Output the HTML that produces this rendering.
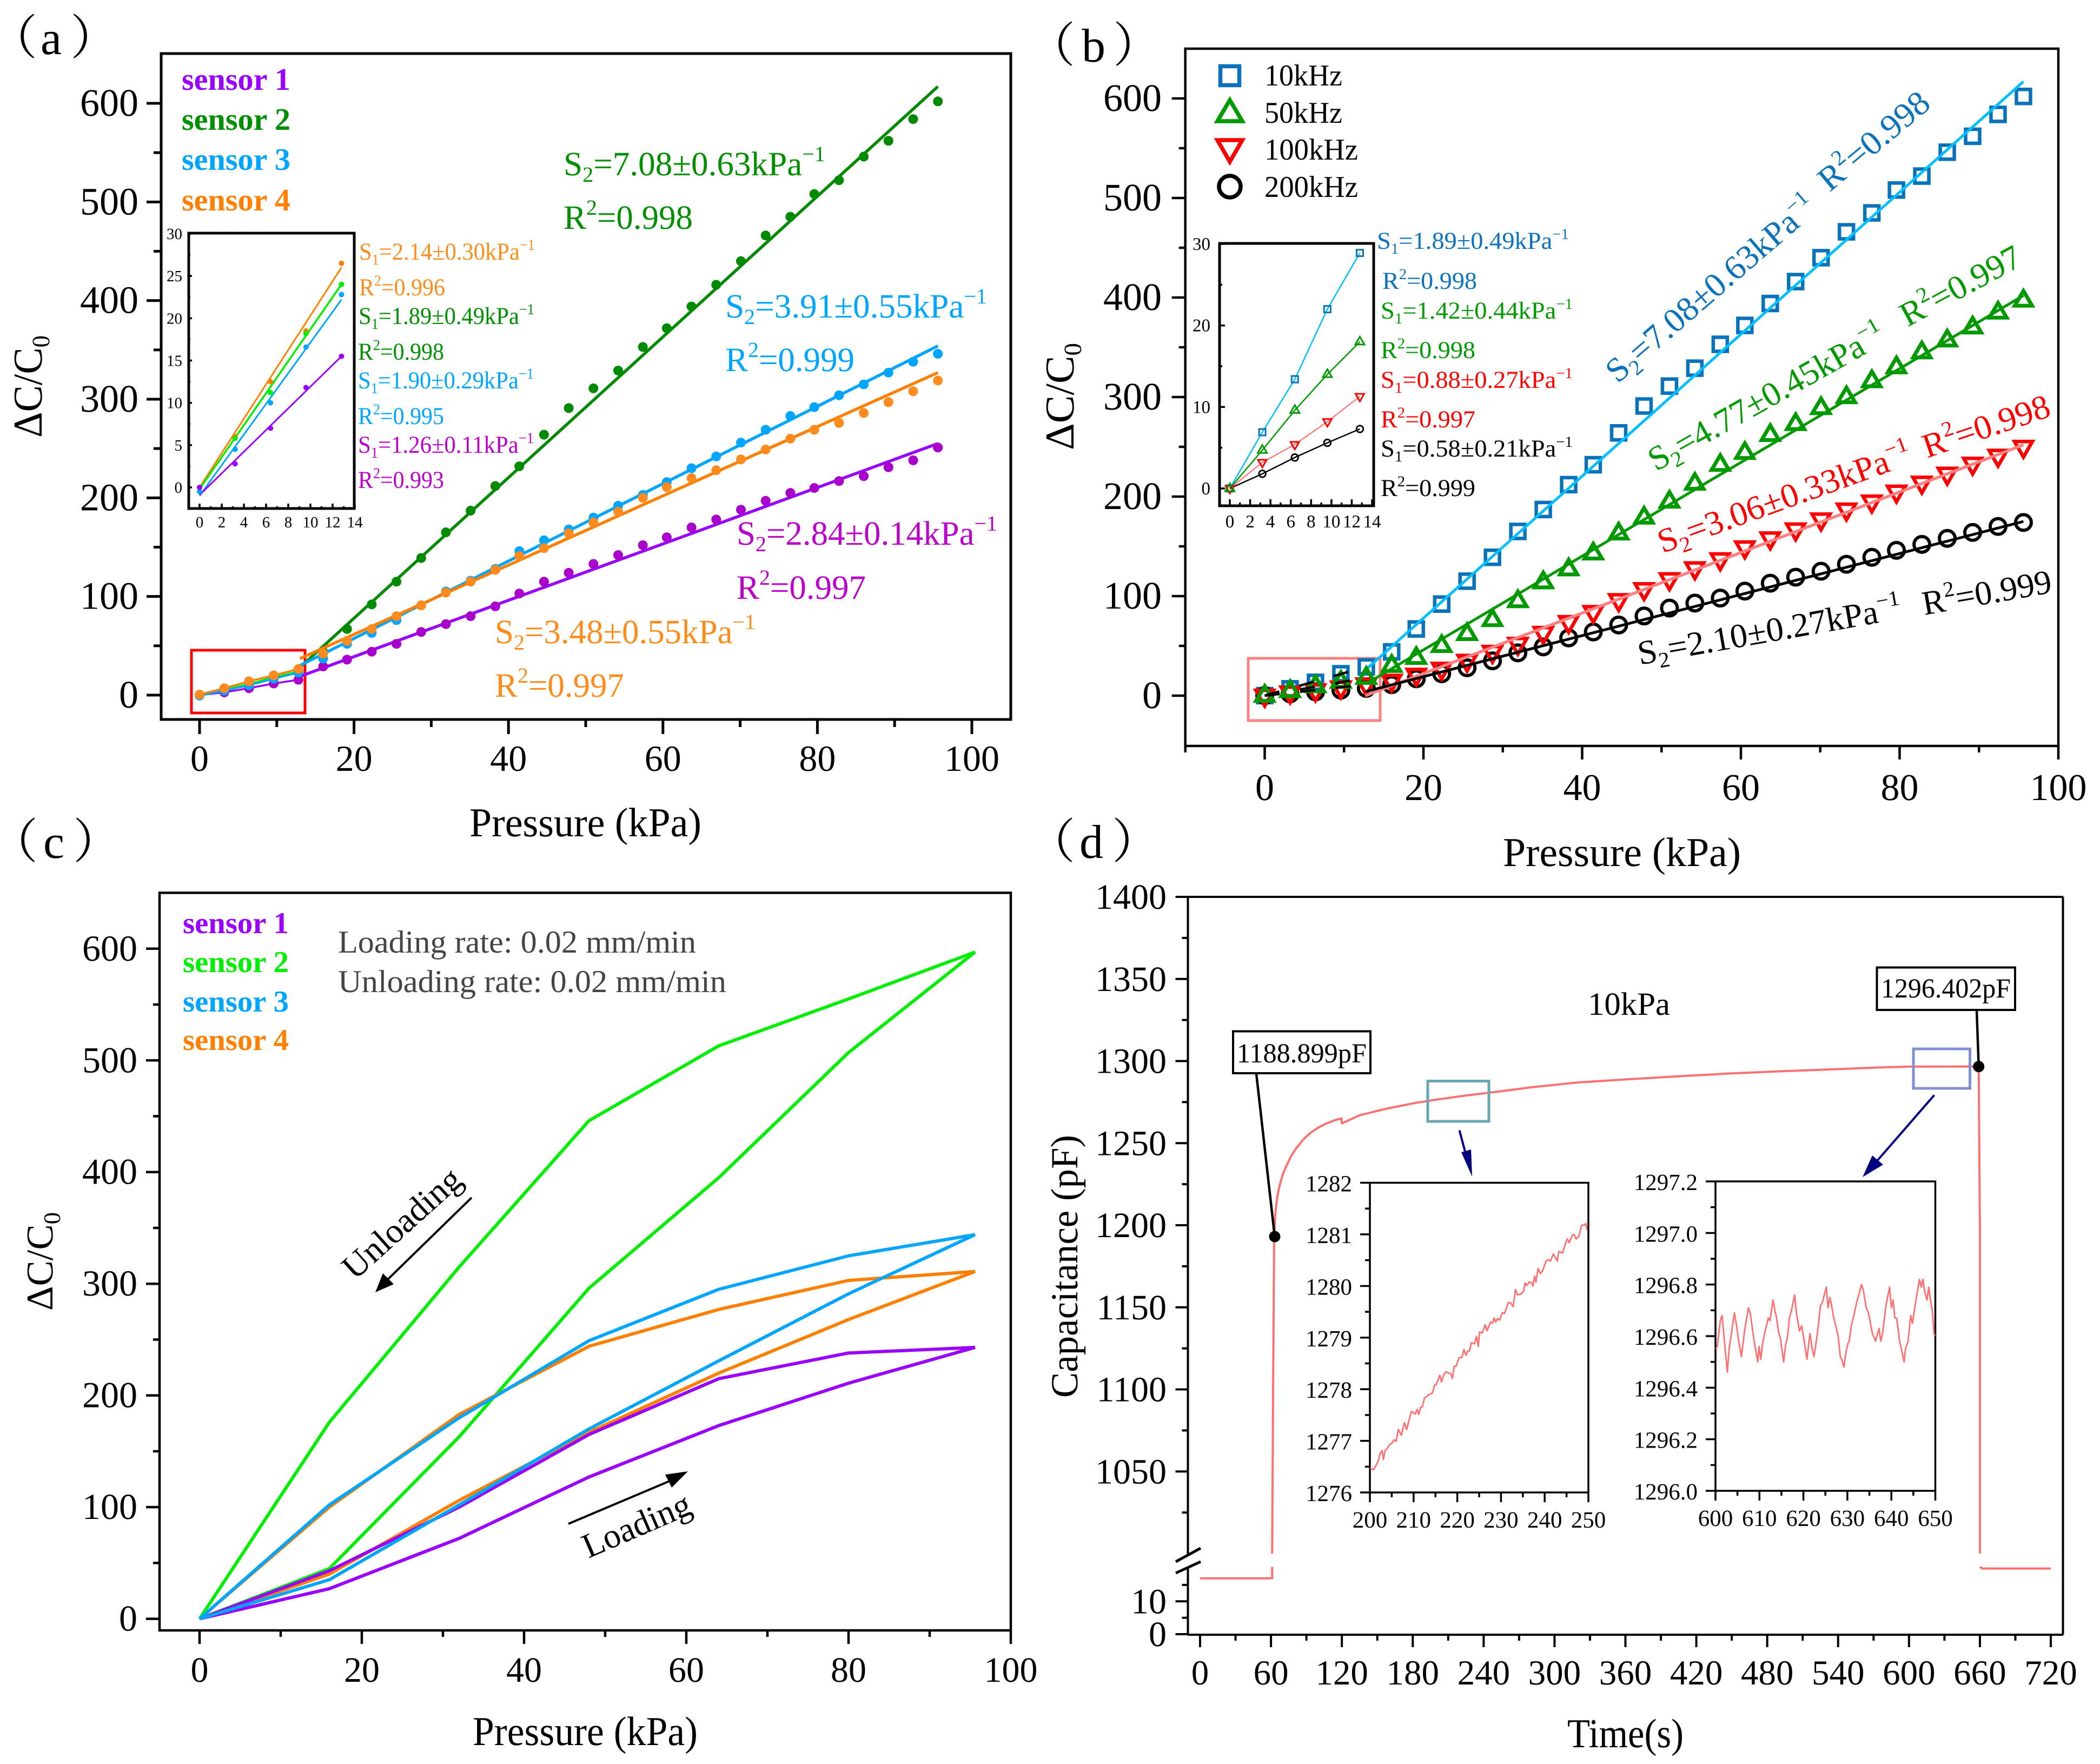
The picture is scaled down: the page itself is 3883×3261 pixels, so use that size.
<!DOCTYPE html>
<html lang="en"><head><meta charset="utf-8"><title>Sensor characterisation figure</title>
<style>
html,body{margin:0;padding:0;background:#fff}
svg{display:block;font-family:"Liberation Serif","Noto Serif CJK SC",serif;text-rendering:geometricPrecision}
.frame{fill:none;stroke:#000}
.big{font-size:63px}
.small{font-size:45px}
.title{font-size:76px;fill:#000}
.lg{font-size:58px;font-weight:bold}
.tag{font-size:88px;fill:#000}
</style></head><body>
<svg id="fig" xmlns="http://www.w3.org/2000/svg" width="3883" height="3261" viewBox="0 0 3883 3261">
<rect width="3883" height="3261" fill="#fff"/>

<!-- PANEL A -->
<g id="panel-a">
<text class="tag" x="-19" y="100">（<tspan dx="6">a</tspan><tspan dx="16">）</tspan></text>
<rect class="frame" x="298" y="99" width="1571" height="1231" stroke-width="5"/>
<rect x="354" y="1202" width="210" height="116" fill="none" stroke="#f00" stroke-width="5"/>
<g id="a-marks"></g>
<g id="a-ticks"></g>
<text class="title" x="868" y="1546" textLength="429" lengthAdjust="spacingAndGlyphs">Pressure (kPa)</text>
<text class="title" transform="translate(77,809) rotate(-90)" textLength="189" lengthAdjust="spacingAndGlyphs">ΔC/C<tspan dy="14" font-size="46">0</tspan></text>
<text class="lg" x="336" y="166" fill="#9a00ff" textLength="201" lengthAdjust="spacingAndGlyphs">sensor 1</text>
<text class="lg" x="336" y="240" fill="#008f00" textLength="201" lengthAdjust="spacingAndGlyphs">sensor 2</text>
<text class="lg" x="336" y="314" fill="#00a5ff" textLength="201" lengthAdjust="spacingAndGlyphs">sensor 3</text>
<text class="lg" x="336" y="389" fill="#ff8000" textLength="201" lengthAdjust="spacingAndGlyphs">sensor 4</text>

<text class="big" fill="#008f00" x="1042" y="324" textLength="484" lengthAdjust="spacingAndGlyphs">S<tspan dy="12" font-size="40">2</tspan><tspan dy="-12">=7.08±0.63kPa</tspan><tspan dy="-26" font-size="40">−1</tspan></text>
<text class="big" fill="#008f00" x="1042" y="423" textLength="239" lengthAdjust="spacingAndGlyphs">R<tspan dy="-26" font-size="40">2</tspan><tspan dy="26">=0.998</tspan></text>
<text class="big" fill="#00a5ff" x="1341" y="587" textLength="484" lengthAdjust="spacingAndGlyphs">S<tspan dy="12" font-size="40">2</tspan><tspan dy="-12">=3.91±0.55kPa</tspan><tspan dy="-26" font-size="40">−1</tspan></text>
<text class="big" fill="#00a5ff" x="1341" y="686" textLength="239" lengthAdjust="spacingAndGlyphs">R<tspan dy="-26" font-size="40">2</tspan><tspan dy="26">=0.999</tspan></text>
<text class="big" fill="#bb00cc" x="1362" y="1007" textLength="482" lengthAdjust="spacingAndGlyphs">S<tspan dy="12" font-size="40">2</tspan><tspan dy="-12">=2.84±0.14kPa</tspan><tspan dy="-26" font-size="40">−1</tspan></text>
<text class="big" fill="#bb00cc" x="1362" y="1107" textLength="239" lengthAdjust="spacingAndGlyphs">R<tspan dy="-26" font-size="40">2</tspan><tspan dy="26">=0.997</tspan></text>
<text class="big" fill="#ff8c1a" x="915" y="1189" textLength="482" lengthAdjust="spacingAndGlyphs">S<tspan dy="12" font-size="40">2</tspan><tspan dy="-12">=3.48±0.55kPa</tspan><tspan dy="-26" font-size="40">−1</tspan></text>
<text class="big" fill="#ff8c1a" x="915" y="1288" textLength="239" lengthAdjust="spacingAndGlyphs">R<tspan dy="-26" font-size="40">2</tspan><tspan dy="26">=0.997</tspan></text>

<g>
<rect class="frame" x="349" y="431" width="306" height="509" stroke-width="5"/>
<g id="a-inset"></g>
</g>
<text class="small" fill="#ff8c1a" x="664" y="480" textLength="325" lengthAdjust="spacingAndGlyphs">S<tspan dy="9" font-size="28">1</tspan><tspan dy="-9">=2.14±0.30kPa</tspan><tspan dy="-18" font-size="28">−1</tspan></text>
<text class="small" fill="#ff8c1a" x="664" y="546" textLength="159" lengthAdjust="spacingAndGlyphs">R<tspan dy="-18" font-size="28">2</tspan><tspan dy="18">=0.996</tspan></text>
<text class="small" fill="#008f00" x="663" y="599" textLength="325" lengthAdjust="spacingAndGlyphs">S<tspan dy="9" font-size="28">1</tspan><tspan dy="-9">=1.89±0.49kPa</tspan><tspan dy="-18" font-size="28">−1</tspan></text>
<text class="small" fill="#008f00" x="662" y="665" textLength="159" lengthAdjust="spacingAndGlyphs">R<tspan dy="-18" font-size="28">2</tspan><tspan dy="18">=0.998</tspan></text>
<text class="small" fill="#00a5ff" x="662" y="718" textLength="325" lengthAdjust="spacingAndGlyphs">S<tspan dy="9" font-size="28">1</tspan><tspan dy="-9">=1.90±0.29kPa</tspan><tspan dy="-18" font-size="28">−1</tspan></text>
<text class="small" fill="#00a5ff" x="662" y="784" textLength="159" lengthAdjust="spacingAndGlyphs">R<tspan dy="-18" font-size="28">2</tspan><tspan dy="18">=0.995</tspan></text>
<text class="small" fill="#bb00cc" x="662" y="837" textLength="325" lengthAdjust="spacingAndGlyphs">S<tspan dy="9" font-size="28">1</tspan><tspan dy="-9">=1.26±0.11kPa</tspan><tspan dy="-18" font-size="28">−1</tspan></text>
<text class="small" fill="#bb00cc" x="662" y="902" textLength="159" lengthAdjust="spacingAndGlyphs">R<tspan dy="-18" font-size="28">2</tspan><tspan dy="18">=0.993</tspan></text>
</g>

<!-- PANEL B -->
<g id="panel-b">
<text class="tag" x="1900" y="114">（<tspan dx="12">b</tspan><tspan dx="14">）</tspan></text>
<rect class="frame" x="2191.7" y="90" width="1614.3" height="1289" stroke-width="4.5"/>
<rect x="2308" y="1217" width="244" height="115" fill="none" stroke="#ff8080" stroke-width="5"/>
<g id="b-marks"></g>
<g id="b-ticks"></g>
<text class="title" x="2779" y="1601" textLength="440" lengthAdjust="spacingAndGlyphs">Pressure (kPa)</text>
<text class="title" transform="translate(1985,832) rotate(-90)" textLength="198" lengthAdjust="spacingAndGlyphs">ΔC/C<tspan dy="14" font-size="46">0</tspan></text>
<g id="b-legend">
<rect x="2256.5" y="122.5" width="35" height="35" fill="none" stroke="#0a72ba" stroke-width="7.5"/>
<path d="M2274 185 L2297 224 L2251 224 Z" fill="none" stroke="#009900" stroke-width="7.5"/>
<path d="M2274 299 L2297 259 L2251 259 Z" fill="none" stroke="#f00" stroke-width="7.5"/>
<circle cx="2274" cy="345" r="20" fill="none" stroke="#000" stroke-width="7.5"/>
<text x="2338" y="158" font-size="56" textLength="144" lengthAdjust="spacingAndGlyphs">10kHz</text>
<text x="2338" y="227" font-size="56" textLength="144" lengthAdjust="spacingAndGlyphs">50kHz</text>
<text x="2338" y="295" font-size="56" textLength="173" lengthAdjust="spacingAndGlyphs">100kHz</text>
<text x="2338" y="364" font-size="56" textLength="173" lengthAdjust="spacingAndGlyphs">200kHz</text>
</g>
<text class="big" fill="#0a72ba" transform="translate(2991,710) rotate(-40.8)" textLength="492" lengthAdjust="spacingAndGlyphs">S<tspan dy="12" font-size="40">2</tspan><tspan dy="-12">=7.08±0.63kPa</tspan><tspan dy="-26" font-size="40">−1</tspan></text>
<text class="big" fill="#0a72ba" transform="translate(3383,356) rotate(-40)" textLength="248" lengthAdjust="spacingAndGlyphs">R<tspan dy="-26" font-size="40">2</tspan><tspan dy="26">=0.998</tspan></text>
<text class="big" fill="#009900" transform="translate(3062,872) rotate(-29.3)" textLength="492" lengthAdjust="spacingAndGlyphs">S<tspan dy="12" font-size="40">2</tspan><tspan dy="-12">=4.77±0.45kPa</tspan><tspan dy="-26" font-size="40">−1</tspan></text>
<text class="big" fill="#009900" transform="translate(3527,605) rotate(-28.4)" textLength="245" lengthAdjust="spacingAndGlyphs">R<tspan dy="-26" font-size="40">2</tspan><tspan dy="26">=0.997</tspan></text>
<text class="big" fill="#f00" transform="translate(3074,1023) rotate(-19.8)" textLength="494" lengthAdjust="spacingAndGlyphs">S<tspan dy="12" font-size="40">2</tspan><tspan dy="-12">=3.06±0.33kPa</tspan><tspan dy="-26" font-size="40">−1</tspan></text>
<text class="big" fill="#f00" transform="translate(3563,847) rotate(-18.7)" textLength="245" lengthAdjust="spacingAndGlyphs">R<tspan dy="-26" font-size="40">2</tspan><tspan dy="26">=0.998</tspan></text>
<text class="big" fill="#000" transform="translate(3032,1229) rotate(-10)" textLength="494" lengthAdjust="spacingAndGlyphs">S<tspan dy="12" font-size="40">2</tspan><tspan dy="-12">=2.10±0.27kPa</tspan><tspan dy="-26" font-size="40">−1</tspan></text>
<text class="big" fill="#000" transform="translate(3558,1137) rotate(-10)" textLength="242" lengthAdjust="spacingAndGlyphs">R<tspan dy="-26" font-size="40">2</tspan><tspan dy="26">=0.999</tspan></text>

<g>
<rect class="frame" x="2255" y="450" width="285" height="485" stroke-width="5"/>
<g id="b-inset"></g>
</g>
<text class="small" fill="#0a72ba" x="2546" y="460" textLength="355" lengthAdjust="spacingAndGlyphs">S<tspan dy="9" font-size="28">1</tspan><tspan dy="-9">=1.89±0.49kPa</tspan><tspan dy="-18" font-size="28">−1</tspan></text>
<text class="small" fill="#0a72ba" x="2556" y="534" textLength="175" lengthAdjust="spacingAndGlyphs">R<tspan dy="-18" font-size="28">2</tspan><tspan dy="18">=0.998</tspan></text>
<text class="small" fill="#009900" x="2553" y="589" textLength="355" lengthAdjust="spacingAndGlyphs">S<tspan dy="9" font-size="28">1</tspan><tspan dy="-9">=1.42±0.44kPa</tspan><tspan dy="-18" font-size="28">−1</tspan></text>
<text class="small" fill="#009900" x="2553" y="662" textLength="175" lengthAdjust="spacingAndGlyphs">R<tspan dy="-18" font-size="28">2</tspan><tspan dy="18">=0.998</tspan></text>
<text class="small" fill="#f00" x="2553" y="717" textLength="355" lengthAdjust="spacingAndGlyphs">S<tspan dy="9" font-size="28">1</tspan><tspan dy="-9">=0.88±0.27kPa</tspan><tspan dy="-18" font-size="28">−1</tspan></text>
<text class="small" fill="#f00" x="2553" y="790" textLength="175" lengthAdjust="spacingAndGlyphs">R<tspan dy="-18" font-size="28">2</tspan><tspan dy="18">=0.997</tspan></text>
<text class="small" fill="#000" x="2553" y="844" textLength="355" lengthAdjust="spacingAndGlyphs">S<tspan dy="9" font-size="28">1</tspan><tspan dy="-9">=0.58±0.21kPa</tspan><tspan dy="-18" font-size="28">−1</tspan></text>
<text class="small" fill="#000" x="2553" y="917" textLength="175" lengthAdjust="spacingAndGlyphs">R<tspan dy="-18" font-size="28">2</tspan><tspan dy="18">=0.999</tspan></text>
</g>

<!-- PANEL C -->
<g id="panel-c">
<text class="tag" x="-18" y="1586">（<tspan dx="10">c</tspan><tspan dx="16">）</tspan></text>
<rect class="frame" x="295" y="1650.5" width="1574" height="1363.5" stroke-width="4.5"/>
<g id="c-marks"></g>
<g id="c-ticks"></g>
<text class="title" x="874" y="3226" textLength="416" lengthAdjust="spacingAndGlyphs">Pressure (kPa)</text>
<text class="title" style="font-size:70px" transform="translate(97,2423) rotate(-90)" textLength="182" lengthAdjust="spacingAndGlyphs">ΔC/C<tspan dy="14" font-size="44">0</tspan></text>
<text x="338" y="1725" font-size="56" font-weight="bold" fill="#9a00ff" textLength="196" lengthAdjust="spacingAndGlyphs">sensor 1</text>
<text x="338" y="1797" font-size="56" font-weight="bold" fill="#00ee00" textLength="196" lengthAdjust="spacingAndGlyphs">sensor 2</text>
<text x="338" y="1870" font-size="56" font-weight="bold" fill="#00a5ff" textLength="196" lengthAdjust="spacingAndGlyphs">sensor 3</text>
<text x="338" y="1941" font-size="56" font-weight="bold" fill="#ff8000" textLength="196" lengthAdjust="spacingAndGlyphs">sensor 4</text>
<text x="625" y="1761" font-size="59" fill="#444" textLength="662" lengthAdjust="spacingAndGlyphs">Loading rate: 0.02 mm/min</text>
<text x="625" y="1834" font-size="59" fill="#444" textLength="718" lengthAdjust="spacingAndGlyphs">Unloading rate: 0.02 mm/min</text>
<text font-size="64" transform="translate(656,2368) rotate(-42)" textLength="272" lengthAdjust="spacingAndGlyphs">Unloading</text>
<line x1="872" y1="2214" x2="712" y2="2370" stroke="#000" stroke-width="4"/>
<polygon points="694,2389 708,2354 728,2374" fill="#000"/>
<text font-size="64" transform="translate(1088,2881) rotate(-23.4)" textLength="212" lengthAdjust="spacingAndGlyphs">Loading</text>
<line x1="1051" y1="2817" x2="1245" y2="2735" stroke="#000" stroke-width="4"/>
<polygon points="1272,2720 1242,2750 1230,2726" fill="#000"/>
</g>

<!-- PANEL D -->
<g id="panel-d">
<text class="tag" x="1900" y="1586">（<tspan dx="8">d</tspan><tspan dx="16">）</tspan></text>
<g stroke="#000" stroke-width="4">
<line x1="2196" y1="1658" x2="3815" y2="1658"/>
<line x1="3814.5" y1="1658" x2="3814.5" y2="3022"/>
<line x1="2196" y1="3022" x2="3815" y2="3022"/>
<line x1="2196.5" y1="1658" x2="2196.5" y2="2873"/>
<line x1="2196.5" y1="2897" x2="2196.5" y2="3022"/>
<line x1="2174" y1="2887" x2="2220" y2="2862" stroke-width="5"/>
<line x1="2174" y1="2908" x2="2220" y2="2887" stroke-width="5"/>
</g>
<g id="d-ticks"></g>
<g id="d-marks"></g>
<text class="title" x="2898" y="3230" textLength="215" lengthAdjust="spacingAndGlyphs">Time(s)</text>
<text style="font-size:71px" transform="translate(1992,2584) rotate(-90)" textLength="486" lengthAdjust="spacingAndGlyphs">Capacitance (pF)</text>
<text x="2936" y="1876" font-size="60" textLength="152" lengthAdjust="spacingAndGlyphs">10kPa</text>
<line x1="2323" y1="1985" x2="2357" y2="2286" stroke="#000" stroke-width="4.5"/>
<circle cx="2357" cy="2286" r="10.5" fill="#000"/>
<rect x="2280" y="1906.5" width="254" height="77.5" fill="#fff" stroke="#000" stroke-width="4"/>
<text x="2287" y="1964" font-size="51" textLength="240" lengthAdjust="spacingAndGlyphs">1188.899pF</text>
<line x1="3655" y1="1868" x2="3658.7" y2="1971" stroke="#000" stroke-width="4.5"/>
<circle cx="3658.7" cy="1971.7" r="10.5" fill="#000"/>
<rect x="3470.5" y="1788.5" width="255.5" height="78.5" fill="#fff" stroke="#000" stroke-width="4"/>
<text x="3478" y="1844" font-size="51" textLength="240" lengthAdjust="spacingAndGlyphs">1296.402pF</text>
<rect x="2640" y="1998.5" width="113" height="74.5" fill="none" stroke="#6aa5b5" stroke-width="5"/>
<rect x="3538" y="1939" width="104.5" height="73" fill="none" stroke="#8090d0" stroke-width="5"/>
<line x1="2698.5" y1="2089.5" x2="2712" y2="2140" stroke="#000080" stroke-width="4"/>
<polygon points="2722,2175 2702,2130 2720,2125" fill="#000080"/>
<line x1="3576.5" y1="2024.5" x2="3470" y2="2147" stroke="#000080" stroke-width="4"/>
<polygon points="3444,2176 3462,2136 3482,2153" fill="#000080"/>
<g>
<rect class="frame" x="2533" y="2186.5" width="404" height="572.5" stroke-width="3.5"/>
<g id="d-inset-1"></g>
</g>
<g>
<rect class="frame" x="3172" y="2184" width="406.5" height="572" stroke-width="3.5"/>
<g id="d-inset-2"></g>
</g>
</g>
</svg>

<script>
/* ---------- shared pressure sampling ---------- */
const pressureKpa = [0,3.2,6.4,9.6,12.8,16,19.1,22.3,25.5,28.7,31.9,35.1,38.3,41.4,44.6,47.8,51,54.2,57.4,60.5,63.7,66.9,70.1,73.3,76.5,79.6,82.8,86,89.2,92.4,95.6];

/* ---------- panel a ---------- */
const sensor1Values = [0,2.8,7,11.8,15.5,29,36,44,52,64,72,80,90,103,115,124,133,142,152,160,170,178,188,197,205,210,217,222,231,238,251];
const sensor2Values = [0,5.8,11.2,18.2,24,44,67,92,115,139,165,187,212,232,264,291,311,329,353,372,394,416,440,466,485,508,522,546,562,584,602];
const sensor3Values = [-0.5,4.5,10,16.6,22.8,37,52,63,76,91,105,116,128,146,157,168,180,192,203,216,230,242,256,269,283,292,304,315,327,338,346];
const sensor4Values = [0.5,7,14,20,26.5,42,55,67,80,91,104,115,127,141,149,164,175,186,200,211,220,228,239,249,260,269,276,286,297,308,319];
const fitKpa = [13,95.6];
const sensor1Fit = [19,255];
const sensor2Fit = [28,617];
const sensor3Fit = [30,354];
const sensor4Fit = [37,327];
const insetFitKpa = [0,12.8];
const insetSensor1Fit = [-0.9,15.5];
const insetSensor2Fit = [-0.2,24];
const insetSensor3Fit = [-1,22.2];
const insetSensor4Fit = [0,26];
const insetSensor1Points = [0,2.8,7,11.8,15.5];
const insetSensor2Points = [0,5.8,11.2,18.2,24];
const insetSensor3Points = [-0.5,4.5,10,16.6,22.8];
const insetSensor4Points = [0,6,12.5,18.5,26.5];
const aXTickLabels = ['0','20','40','60','80','100'];
const aXMinorTicks = [10,30,50,70,90];
const aYTickLabels = ['0','100','200','300','400','500','600'];
const aYMinorTicks = [50,150,250,350,450,550];
const insetAXTickLabels = ['0','2','4','6','8','10','12','14'];
const insetAXMinorTicks = [1,3,5,7,9,11,13];
const insetAYTickLabels = ['0','5','10','15','20','25','30'];
const insetAYMinorTicks = [2.5,7.5,12.5,17.5,22.5,27.5];

/* ---------- panel b ---------- */
const freq10kHzValues = [0,6.9,13.4,22,28.9,44,67,92,115,139,165,187,212,232,264,291,311,329,353,372,394,416,440,466,485,508,522,546,562,584,602];
const freq50kHzValues = [0,4.7,9.6,14,18,30,38,50,62,76,95,114,127,143,163,179,195,213,232,244,262,273,289,300,316,330,345,357,370,385,397];
const freq100kHzValues = [0,3.2,5.4,8.2,11.3,15,21,27,35,44,52,63,74,84,96,107,117,128,137,149,158,167,177,187,195,205,214,223,233,241,250];
const freq200kHzValues = [0,1.8,3.8,5.6,7.3,11,17,22,28,35,43,49,58,64,71,80,88,93,98,105,113,119,125,132,139,146,152,158,164,170,174];
const freq10kHzFitKpa = [13,95.6];
const freq10kHzFit = [28,617];
const freq50kHzFitKpa = [13,95.6];
const freq50kHzFit = [13,402];
const freq100kHzFitKpa = [12.7,95.6];
const freq100kHzFit = [0,252];
const freq200kHzFitKpa = [12.7,95.6];
const freq200kHzFit = [4,175];
const lowRangeFitKpa = [0,12.8];
const lowRange10kHzFit = [0,29];
const lowRange50kHzFit = [0,18];
const lowRange100kHzFit = [0,11.3];
const bXTickLabels = ['0','20','40','60','80','100'];
const bXMinorTicks = [-10,10,30,50,70,90];
const bYTickLabels = ['0','100','200','300','400','500','600'];
const bYMinorTicks = [50,150,250,350,450,550];
const insetBXTickLabels = ['0','2','4','6','8','10','12','14'];
const insetBXMinorTicks = [1,3,5,7,9,11,13];
const insetBYTickLabels = ['0','10','20','30'];
const insetBYMinorTicks = [5,15,25];

/* ---------- panel c ---------- */
const cycleKpa = [0,16,32,48,64,80,95.6];
const sensor1Loading = [0,27,72,127,173,211,243];
const sensor1Unloading = [0,43,100,165,215,238,243];
const sensor2Loading = [0,45,163,296,395,507,597];
const sensor2Unloading = [0,176,315,446,513,555,597];
const sensor3Loading = [0,35,102,170,231,291,344];
const sensor3Unloading = [0,102,180,249,295,325,344];
const sensor4Loading = [0,40,106,167,220,268,311];
const sensor4Unloading = [0,100,183,244,277,303,311];
const cXTickLabels = ['0','20','40','60','80','100'];
const cXMinorTicks = [10,30,50,70,90];
const cYTickLabels = ['0','100','200','300','400','500','600'];
const cYMinorTicks = [50,150,250,350,450,550];

/* ---------- panel d ---------- */
const restBeforeTime = [0,61,61];
const restBeforeValues = [17,17,20.5];
const riseTime = [61,61.8,62.7,63.5,64.4,65.5,67.3,70,73,77,81.5,87,93,100,107,114,119.7,120,135,158,180,200,225,250,280,320,360,400,450,500,550,580,600,650,658,659,660,660];
const riseValues = [1000,1100,1193,1205,1212,1218,1224,1231,1236,1242,1247,1252,1256,1259.5,1262,1264,1265,1262,1267,1271,1274.2,1276.5,1279,1281.2,1284,1287,1288.8,1290.5,1292.5,1294,1295.4,1296.2,1296.6,1296.7,1296.5,1296.4,1200,1000];
const restAfterTime = [660,662,720];
const restAfterValues = [20.5,20,20];
const dXTickLabels = ['0','60','120','180','240','300','360','420','480','540','600','660','720'];
const dXMinorTicks = [30,90,150,210,270,330,390,450,510,570,630,690];
const dUpperTickLabels = ['1050','1100','1150','1200','1250','1300','1350','1400'];
const dUpperMinorTicks = [1025,1075,1125,1175,1225,1275,1325,1375];
const dLowerTickLabels = ['0','10'];
const dLowerMinorTicks = [5,15];
const zoomATime = [200.1,200.8,201.5,201.9,202.3,202.8,203.1,203.5,204,204.4,205,205.5,206,206.5,207.2,207.9,208.4,209.5,210.4,210.8,211.2,211.6,212,212.5,213,213.6,214.3,214.8,215.2,216,216.4,216.9,217.5,218.1,218.5,218.9,219.3,219.7,220.4,221.1,221.5,222,222.4,222.8,223.2,223.9,224.4,224.8,225.1,225.7,226.4,226.8,227.6,228.1,228.4,228.8,229.2,229.7,230.3,230.8,231.7,232.2,232.8,233.3,233.8,234.5,235.2,235.5,235.9,236.5,236.9,237.3,237.7,238,238.5,239,239.5,240.3,240.8,241.3,242,242.9,243.2,244.1,244.9,245.2,245.6,246.3,246.7,247.2,247.8,248.5,249.1,249.4,249.7];
const zoomAValues = [1276.47,1276.44,1276.54,1276.61,1276.75,1276.81,1276.64,1276.82,1276.85,1276.92,1276.95,1277.02,1276.99,1277.22,1277.11,1277.35,1277.22,1277.57,1277.52,1277.61,1277.51,1277.65,1277.66,1277.83,1277.86,1277.9,1277.92,1278.08,1278.09,1278.27,1278.14,1278.28,1278.34,1278.31,1278.3,1278.21,1278.45,1278.44,1278.61,1278.62,1278.77,1278.66,1278.74,1278.74,1278.9,1278.88,1279.02,1278.83,1279.11,1279.09,1279.25,1279.13,1279.3,1279.28,1279.38,1279.3,1279.37,1279.34,1279.48,1279.47,1279.68,1279.67,1279.6,1279.93,1279.83,1279.84,1279.9,1280.06,1280.01,1280.08,1280.07,1280,1280.19,1280.08,1280.34,1280.24,1280.29,1280.48,1280.51,1280.48,1280.62,1280.48,1280.67,1280.64,1280.86,1280.91,1280.84,1280.98,1281,1280.91,1280.96,1281.18,1281.18,1281.21,1281.08];
const zoomBTime = [600.1,600.4,601.1,601.5,602.2,602.7,603.1,604.3,604.8,605.2,605.9,606.6,607.5,607.9,608.8,609.1,609.6,609.9,610.3,610.7,611.3,612,612.4,613.1,613.5,613.9,614.3,614.8,615.5,615.9,616.4,616.8,617.3,618,618.4,619.1,619.6,620.1,620.8,621.2,621.5,622,622.4,623.1,623.9,624.3,625.2,625.6,626,626.4,626.8,627.5,627.9,628.4,628.7,629.2,629.7,630.1,630.4,630.9,631.6,632.1,632.6,633.2,633.6,634.3,634.8,635.7,636.4,637.2,637.6,638,638.8,639.6,640,640.4,640.8,641.2,641.9,642.9,643.2,643.8,644.4,644.8,645.6,646.4,646.8,647.2,647.6,648.1,648.5,648.9,649.3,649.7,649.9];
const zoomBValues = [1296.55,1296.56,1296.66,1296.68,1296.55,1296.46,1296.55,1296.69,1296.64,1296.59,1296.52,1296.62,1296.71,1296.69,1296.58,1296.55,1296.5,1296.56,1296.51,1296.57,1296.62,1296.67,1296.66,1296.74,1296.7,1296.67,1296.62,1296.59,1296.5,1296.56,1296.6,1296.67,1296.7,1296.76,1296.69,1296.62,1296.64,1296.59,1296.51,1296.57,1296.61,1296.55,1296.52,1296.6,1296.72,1296.73,1296.79,1296.71,1296.75,1296.72,1296.68,1296.63,1296.6,1296.52,1296.51,1296.48,1296.54,1296.57,1296.58,1296.64,1296.69,1296.73,1296.76,1296.8,1296.78,1296.71,1296.69,1296.61,1296.58,1296.63,1296.58,1296.61,1296.72,1296.79,1296.71,1296.74,1296.67,1296.67,1296.58,1296.5,1296.55,1296.58,1296.68,1296.65,1296.74,1296.82,1296.79,1296.82,1296.77,1296.74,1296.79,1296.74,1296.7,1296.61,1296.6];
const zoomAXTickLabels = ['200','210','220','230','240','250'];
const zoomAXMinorTicks = [205,215,225,235,245];
const zoomAYTickLabels = ['1276','1277','1278','1279','1280','1281','1282'];
const zoomAYMinorTicks = [1276.5,1277.5,1278.5,1279.5,1280.5,1281.5];
const zoomBXTickLabels = ['600','610','620','630','640','650'];
const zoomBXMinorTicks = [605,615,625,635,645];
const zoomBYTickLabels = ['1296.0','1296.2','1296.4','1296.6','1296.8','1297.0','1297.2'];
const zoomBYMinorTicks = [1296.1,1296.3,1296.5,1296.7,1296.9,1297.1];

/* ---------- helpers ---------- */
const SVG_NS = 'http://www.w3.org/2000/svg';
function linear(d0, d1, r0, r1) { return v => r0 + (v - d0) * (r1 - r0) / (d1 - d0); }
function make(parent, tag, name, attrs) {
  const el = document.createElementNS(SVG_NS, tag);
  
  
  for (const k in attrs) el.setAttribute(k, attrs[k]);
  parent.appendChild(el);
  return el;
}
function polyline(parent, name, xs, ys, fx, fy, color, width, extra) {
  const pts = xs.map((x, i) => fx(x).toFixed(1) + ',' + fy(ys[i]).toFixed(1)).join(' ');
  return make(parent, 'polyline', name, Object.assign({points: pts, fill: 'none', stroke: color, 'stroke-width': width, 'stroke-linejoin': 'round'}, extra || {}));
}
function dots(parent, name, xs, ys, fx, fy, color, r) {
  xs.forEach((x, i) => make(parent, 'circle', name, {cx: fx(x).toFixed(1), cy: fy(ys[i]).toFixed(1), r: r, fill: color}));
}
function markers(parent, name, kind, xs, ys, fx, fy, color, s, sw) {
  xs.forEach((x, i) => {
    const cx = fx(x), cy = fy(ys[i]);
    if (kind === 'square') make(parent, 'rect', name, {x: cx - s, y: cy - s, width: 2 * s, height: 2 * s, fill: 'none', stroke: color, 'stroke-width': sw});
    if (kind === 'circle') make(parent, 'circle', name, {cx: cx, cy: cy, r: s, fill: 'none', stroke: color, 'stroke-width': sw});
    if (kind === 'up') make(parent, 'path', name, {d: `M${cx} ${cy - s * 1.1} L${cx + s} ${cy + s * 0.6} L${cx - s} ${cy + s * 0.6} Z`, fill: 'none', stroke: color, 'stroke-width': sw});
    if (kind === 'down') make(parent, 'path', name, {d: `M${cx} ${cy + s * 1.15} L${cx + s} ${cy - s * 0.6} L${cx - s} ${cy - s * 0.6} Z`, fill: 'none', stroke: color, 'stroke-width': sw});
  });
}
/* o: scale, axisPos, dir, majorLen, minorLen, sw, labelPos, labelShift, fontSize */
function xAxis(parent, name, labels, minor, o) {
  labels.forEach(label => {
    const x = o.scale(Number(label));
    make(parent, 'line', name + '-major-tick', {x1: x, x2: x, y1: o.axisPos, y2: o.axisPos + o.dir * o.majorLen, stroke: '#000', 'stroke-width': o.sw});
    const t = make(parent, 'text', name + '-tick-label', {x: x, y: o.labelPos, 'text-anchor': 'middle', 'font-size': o.fontSize});
    t.textContent = label;
  });
  minor.forEach(v => {
    const x = o.scale(v);
    make(parent, 'line', name + '-minor-tick', {x1: x, x2: x, y1: o.axisPos, y2: o.axisPos + o.dir * o.minorLen, stroke: '#000', 'stroke-width': o.sw});
  });
}
function yAxis(parent, name, labels, minor, o) {
  labels.forEach(label => {
    const y = o.scale(Number(label));
    make(parent, 'line', name + '-major-tick', {y1: y, y2: y, x1: o.axisPos, x2: o.axisPos + o.dir * o.majorLen, stroke: '#000', 'stroke-width': o.sw});
    const t = make(parent, 'text', name + '-tick-label', {x: o.labelPos, y: y + o.labelShift, 'text-anchor': 'end', 'font-size': o.fontSize});
    t.textContent = label;
  });
  minor.forEach(v => {
    const y = o.scale(v);
    make(parent, 'line', name + '-minor-tick', {y1: y, y2: y, x1: o.axisPos, x2: o.axisPos + o.dir * o.minorLen, stroke: '#000', 'stroke-width': o.sw});
  });
}
const byId = id => document.getElementById(id);
const PURPLE = '#9a00ff', MAGENTA = '#aa00cc', DGREEN = '#008a00', BLUE = '#00a5ff', ORANGE = '#ff8000', LIME = '#00ee00';

/* ---------- panel a drawing ---------- */
(function () {
  const fx = linear(0, 100, 369, 1797), fy = linear(0, 600, 1285, 191);
  const g = byId('a-marks');
  const low = pressureKpa.slice(0, 5);
  polyline(g, 'sensor-1-fit-line', fitKpa, sensor1Fit, fx, fy, PURPLE, 5.5);
  polyline(g, 'sensor-1-low-line', low, sensor1Values.slice(0, 5), fx, fy, PURPLE, 3.5);
  polyline(g, 'sensor-2-fit-line', fitKpa, sensor2Fit, fx, fy, DGREEN, 5.5);
  polyline(g, 'sensor-2-low-line', low, sensor2Values.slice(0, 5), fx, fy, LIME, 3.5);
  dots(g, 'sensor-1-point', pressureKpa, sensor1Values, fx, fy, MAGENTA, 9);
  dots(g, 'sensor-2-point', pressureKpa, sensor2Values, fx, fy, DGREEN, 9);
  polyline(g, 'sensor-3-fit-line', fitKpa, sensor3Fit, fx, fy, BLUE, 5.5);
  polyline(g, 'sensor-3-low-line', low, sensor3Values.slice(0, 5), fx, fy, BLUE, 3.5);
  dots(g, 'sensor-3-point', pressureKpa, sensor3Values, fx, fy, BLUE, 9);
  polyline(g, 'sensor-4-fit-line', fitKpa, sensor4Fit, fx, fy, ORANGE, 5.5);
  polyline(g, 'sensor-4-low-line', low, sensor4Values.slice(0, 5), fx, fy, ORANGE, 3.5);
  dots(g, 'sensor-4-point', pressureKpa, sensor4Values, fx, fy, '#ff8a1e', 9);
  const t = byId('a-ticks');
  xAxis(t, 'x-axis', aXTickLabels, aXMinorTicks, {scale: fx, axisPos: 1330, dir: 1, majorLen: 27, minorLen: 14, sw: 5, labelPos: 1425, fontSize: 68});
  yAxis(t, 'y-axis', aYTickLabels, aYMinorTicks, {scale: fy, axisPos: 298, dir: -1, majorLen: 27, minorLen: 14, sw: 5, labelPos: 256, labelShift: 23, fontSize: 72});

  const ix = linear(0, 14, 369, 656), iy = linear(0, 30, 901, 432);
  const h = byId('a-inset');
  const kPts = pressureKpa.slice(0, 5);
  polyline(h, 'inset-sensor-4-fit-line', insetFitKpa, insetSensor4Fit, ix, iy, ORANGE, 3);
  polyline(h, 'inset-sensor-3-fit-line', insetFitKpa, insetSensor3Fit, ix, iy, BLUE, 3);
  polyline(h, 'inset-sensor-2-fit-line', insetFitKpa, insetSensor2Fit, ix, iy, LIME, 3.5);
  polyline(h, 'inset-sensor-1-fit-line', insetFitKpa, insetSensor1Fit, ix, iy, PURPLE, 3);
  dots(h, 'inset-sensor-4-point', kPts, insetSensor4Points, ix, iy, ORANGE, 5);
  dots(h, 'inset-sensor-2-point', kPts, insetSensor2Points, ix, iy, LIME, 5);
  dots(h, 'inset-sensor-3-point', kPts, insetSensor3Points, ix, iy, BLUE, 5);
  dots(h, 'inset-sensor-1-point', kPts, insetSensor1Points, ix, iy, PURPLE, 5);
  xAxis(h, 'inset-x-axis', insetAXTickLabels, insetAXMinorTicks, {scale: ix, axisPos: 940, dir: -1, majorLen: 9, minorLen: 4, sw: 3.5, labelPos: 975, fontSize: 29});
  yAxis(h, 'inset-y-axis', insetAYTickLabels, insetAYMinorTicks, {scale: iy, axisPos: 349, dir: 1, majorLen: 6, minorLen: 3, sw: 3.5, labelPos: 337, labelShift: 10, fontSize: 29});
})();

/* ---------- panel b drawing ---------- */
(function () {
  const fx = linear(0, 100, 2338.5, 3806), fy = linear(0, 600, 1286, 182);
  const g = byId('b-marks');
  markers(g, '10khz-point', 'square', pressureKpa, freq10kHzValues, fx, fy, '#0a72ba', 13, 6.5);
  markers(g, '200khz-point', 'circle', pressureKpa, freq200kHzValues, fx, fy, '#000', 14.5, 6);
  markers(g, '100khz-point', 'down', pressureKpa, freq100kHzValues, fx, fy, '#f00', 16.5, 6.5);
  polyline(g, '10khz-fit-line', freq10kHzFitKpa, freq10kHzFit, fx, fy, '#00bfff', 5);
  polyline(g, '100khz-fit-line', freq100kHzFitKpa, freq100kHzFit, fx, fy, '#ff8080', 5.5);
  polyline(g, '200khz-fit-line', freq200kHzFitKpa, freq200kHzFit, fx, fy, '#000', 5);
  markers(g, '50khz-point', 'up', pressureKpa, freq50kHzValues, fx, fy, '#009900', 16, 7);
  polyline(g, '50khz-fit-line', freq50kHzFitKpa, freq50kHzFit, fx, fy, '#009900', 5);
  polyline(g, '10khz-low-fit-line', lowRangeFitKpa, lowRange10kHzFit, fx, fy, '#000', 4.5, {'stroke-dasharray': '28 38'});
  polyline(g, '50khz-low-fit-line', lowRangeFitKpa, lowRange50kHzFit, fx, fy, '#000', 4.5, {'stroke-dasharray': '28 38'});
  polyline(g, '100khz-low-fit-line', lowRangeFitKpa, lowRange100kHzFit, fx, fy, '#000', 4.5, {'stroke-dasharray': '28 38'});
  const t = byId('b-ticks');
  xAxis(t, 'x-axis', bXTickLabels, bXMinorTicks, {scale: fx, axisPos: 1379, dir: 1, majorLen: 25, minorLen: 12, sw: 4.5, labelPos: 1479, fontSize: 70});
  yAxis(t, 'y-axis', bYTickLabels, bYMinorTicks, {scale: fy, axisPos: 2191.7, dir: -1, majorLen: 25, minorLen: 12, sw: 4.5, labelPos: 2148, labelShift: 23, fontSize: 72});

  const ix = linear(0, 14, 2274, 2537), iy = linear(0, 30, 903, 451);
  const h = byId('b-inset');
  const k = pressureKpa.slice(0, 5);
  const n = 5;
  polyline(h, 'inset-10khz-line', k, freq10kHzValues.slice(0, n), ix, iy, '#00bfff', 2.5);
  polyline(h, 'inset-50khz-line', k, freq50kHzValues.slice(0, n), ix, iy, '#009900', 2.5);
  polyline(h, 'inset-100khz-line', k, freq100kHzValues.slice(0, n), ix, iy, '#ff8080', 2.5);
  polyline(h, 'inset-200khz-line', k, freq200kHzValues.slice(0, n), ix, iy, '#000', 2.5);
  markers(h, 'inset-10khz-point', 'square', k, freq10kHzValues.slice(0, n), ix, iy, '#0a72ba', 6, 3);
  markers(h, 'inset-200khz-point', 'circle', k, freq200kHzValues.slice(0, n), ix, iy, '#000', 6.3, 2.8);
  markers(h, 'inset-100khz-point', 'down', k, freq100kHzValues.slice(0, n), ix, iy, '#f00', 8, 3);
  markers(h, 'inset-50khz-point', 'up', k, freq50kHzValues.slice(0, n), ix, iy, '#009900', 8.5, 3);
  xAxis(h, 'inset-x-axis', insetBXTickLabels, insetBXMinorTicks, {scale: ix, axisPos: 935, dir: -1, majorLen: 12, minorLen: 6, sw: 3.5, labelPos: 975, fontSize: 33});
  yAxis(h, 'inset-y-axis', insetBYTickLabels, insetBYMinorTicks, {scale: iy, axisPos: 2255, dir: 1, majorLen: 10, minorLen: 5, sw: 3.5, labelPos: 2238, labelShift: 11, fontSize: 33});
})();

/* ---------- panel c drawing ---------- */
(function () {
  const fx = linear(0, 100, 369, 1869), fy = linear(0, 600, 2992.6, 1753.8);
  const g = byId('c-marks');
  polyline(g, 'sensor-2-loading-line', cycleKpa, sensor2Loading, fx, fy, LIME, 6);
  polyline(g, 'sensor-2-unloading-line', cycleKpa, sensor2Unloading, fx, fy, LIME, 6);
  polyline(g, 'sensor-4-loading-line', cycleKpa, sensor4Loading, fx, fy, ORANGE, 6);
  polyline(g, 'sensor-4-unloading-line', cycleKpa, sensor4Unloading, fx, fy, ORANGE, 6);
  polyline(g, 'sensor-1-loading-line', cycleKpa, sensor1Loading, fx, fy, PURPLE, 6);
  polyline(g, 'sensor-1-unloading-line', cycleKpa, sensor1Unloading, fx, fy, PURPLE, 6);
  polyline(g, 'sensor-3-loading-line', cycleKpa, sensor3Loading, fx, fy, BLUE, 6);
  polyline(g, 'sensor-3-unloading-line', cycleKpa, sensor3Unloading, fx, fy, BLUE, 6);
  const t = byId('c-ticks');
  xAxis(t, 'x-axis', cXTickLabels, cXMinorTicks, {scale: fx, axisPos: 3014, dir: 1, majorLen: 25, minorLen: 12, sw: 4.5, labelPos: 3109, fontSize: 66});
  yAxis(t, 'y-axis', cYTickLabels, cYMinorTicks, {scale: fy, axisPos: 295, dir: -1, majorLen: 25, minorLen: 12, sw: 4.5, labelPos: 254, labelShift: 22, fontSize: 68});
})();

/* ---------- panel d drawing ---------- */
(function () {
  const fx = linear(0, 720, 2219, 3792);
  const fUp = linear(1000, 1400, 2872, 1658), fLo = linear(0, 10, 3021, 2960.3);
  const g = byId('d-marks');
  polyline(g, 'capacitance-baseline-before', restBeforeTime, restBeforeValues, fx, fLo, '#ff7070', 4);
  polyline(g, 'capacitance-response-curve', riseTime, riseValues, fx, fUp, '#ff7070', 4);
  polyline(g, 'capacitance-baseline-after', restAfterTime, restAfterValues, fx, fLo, '#ff7070', 4);
  const t = byId('d-ticks');
  xAxis(t, 'x-axis', dXTickLabels, dXMinorTicks, {scale: fx, axisPos: 3022, dir: 1, majorLen: 23, minorLen: 11, sw: 4, labelPos: 3114, fontSize: 65});
  yAxis(t, 'y-axis-upper', dUpperTickLabels, dUpperMinorTicks, {scale: fUp, axisPos: 2196.5, dir: -1, majorLen: 23, minorLen: 11, sw: 4, labelPos: 2157, labelShift: 22, fontSize: 66});
  yAxis(t, 'y-axis-lower', dLowerTickLabels, dLowerMinorTicks, {scale: fLo, axisPos: 2196.5, dir: -1, majorLen: 23, minorLen: 11, sw: 4, labelPos: 2157, labelShift: 22, fontSize: 66});

  const ax = linear(200, 250, 2533, 2937), ay = linear(1276, 1282, 2759, 2186.5);
  const a = byId('d-inset-1');
  polyline(a, 'zoom-200-250s-curve', zoomATime, zoomAValues, ax, ay, '#ff7070', 2.8);
  xAxis(a, 'zoom-a-x-axis', zoomAXTickLabels, zoomAXMinorTicks, {scale: ax, axisPos: 2759, dir: 1, majorLen: 18, minorLen: 9, sw: 3.5, labelPos: 2824, fontSize: 43});
  yAxis(a, 'zoom-a-y-axis', zoomAYTickLabels, zoomAYMinorTicks, {scale: ay, axisPos: 2533, dir: -1, majorLen: 18, minorLen: 9, sw: 3.5, labelPos: 2500, labelShift: 16, fontSize: 43});

  const bx = linear(600, 650, 3172, 3578.5), by = linear(1296, 1297.2, 2756, 2184);
  const b = byId('d-inset-2');
  polyline(b, 'zoom-600-650s-curve', zoomBTime, zoomBValues, bx, by, '#ff7070', 2.8);
  xAxis(b, 'zoom-b-x-axis', zoomBXTickLabels, zoomBXMinorTicks, {scale: bx, axisPos: 2756, dir: 1, majorLen: 18, minorLen: 9, sw: 3.5, labelPos: 2821, fontSize: 43});
  yAxis(b, 'zoom-b-y-axis', zoomBYTickLabels, zoomBYMinorTicks, {scale: by, axisPos: 3172, dir: -1, majorLen: 18, minorLen: 9, sw: 3.5, labelPos: 3139, labelShift: 16, fontSize: 43});
})();
</script>
</body></html>
